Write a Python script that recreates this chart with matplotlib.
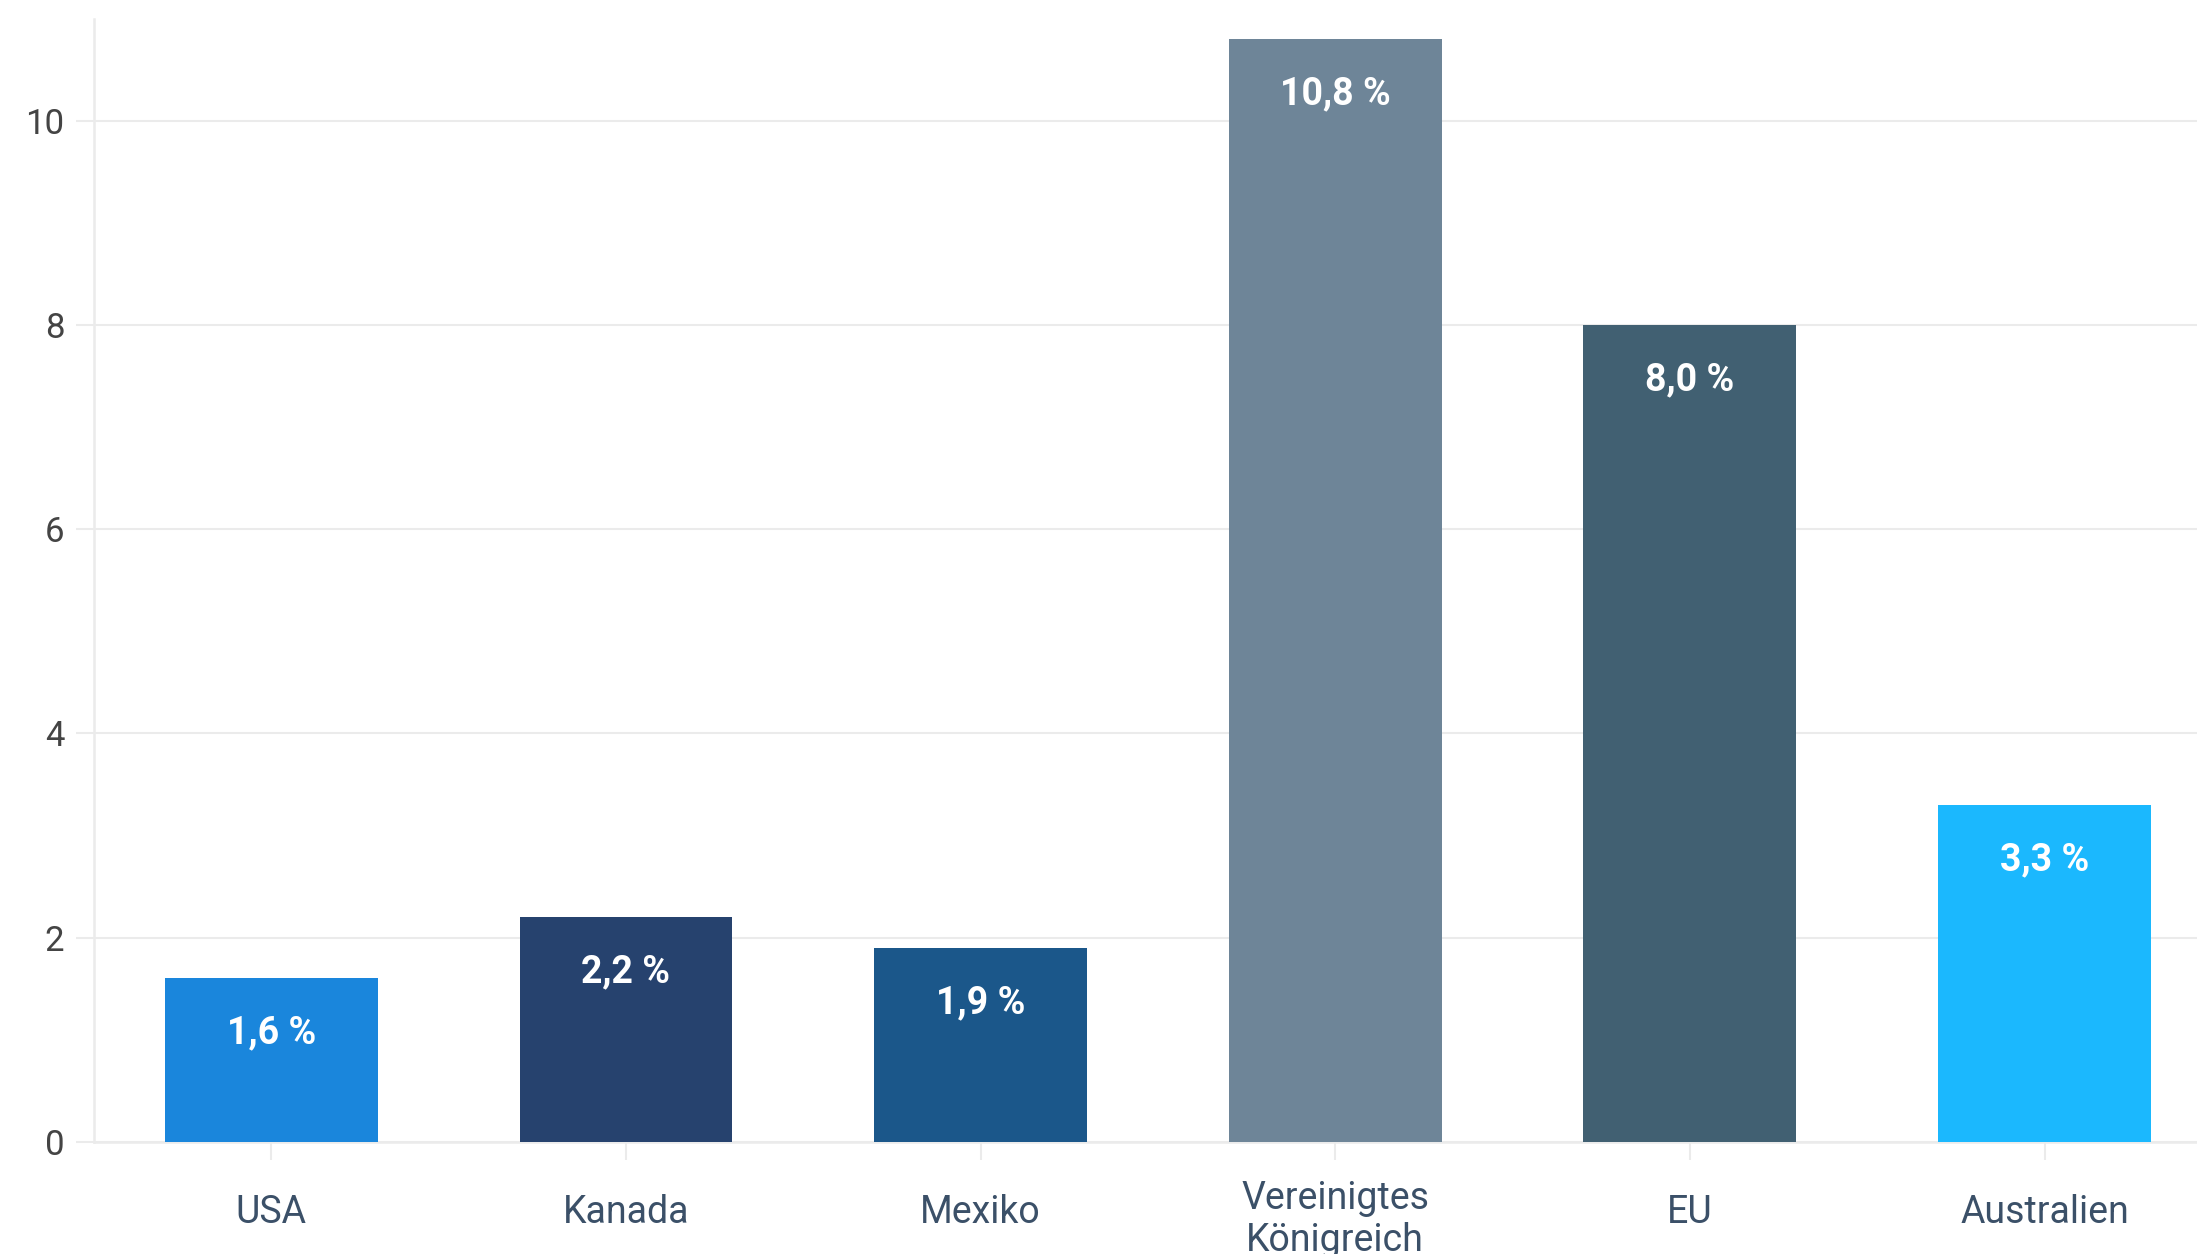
import matplotlib
matplotlib.use("Agg")
import matplotlib.pyplot as plt
import matplotlib.transforms as mtransforms

# Data
categories = ["USA", "Kanada", "Mexiko", "Vereinigtes\nKönigreich", "EU", "Australien"]
values = [1.6, 2.2, 1.9, 10.8, 8.0, 3.3]
value_labels = ["1,6 %", "2,2 %", "1,9 %", "10,8 %", "8,0 %", "3,3 %"]
bar_colors = ["#1a86dc", "#26426e", "#1b578a", "#6e8598", "#416072", "#1bb8fe"]
y_ticks = [0, 2, 4, 6, 8, 10]

plt.rcParams["font.family"] = ["Roboto", "DejaVu Sans"]

W, H = 2197, 1254
fig = plt.figure(figsize=(W / 100, H / 100), dpi=100)
ax = fig.add_axes([94 / W, (H - 1141.7) / H, 1 - 94 / W, (1141.7 - 19) / H])

grid_c = "#ebebeb"
x = list(range(len(categories)))
bars = ax.bar(x, values, width=0.6, color=bar_colors, zorder=3)

for xi, v, lab in zip(x, values, value_labels):
    ax.annotate(lab, (xi, v), xytext=(0, -39.5), textcoords="offset points",
                ha="center", va="center", color="white", fontsize=27,
                fontweight="bold", zorder=4)

ax.set_xlim(-0.5, 5.43)
ax.set_ylim(0, 11)
ax.set_yticks(y_ticks)
ax.set_yticklabels([str(t) for t in y_ticks])
ax.set_xticks(x)
ax.set_xticklabels(categories, va="center", linespacing=1.15)

ax.set_axisbelow(True)
ax.yaxis.grid(True, color=grid_c, linewidth=1.5, zorder=0)
ax.xaxis.grid(False)

for s in ["top", "right"]:
    ax.spines[s].set_visible(False)
for s in ["left", "bottom"]:
    ax.spines[s].set_color(grid_c)
    ax.spines[s].set_linewidth(1.8)

ax.tick_params(axis="y", length=13, width=1.5, color=grid_c, pad=8.5,
               labelsize=25, labelcolor="#444444")
ax.tick_params(axis="x", length=13, width=1.5, color=grid_c, pad=38,
               labelsize=27, labelcolor="#3b5068")

# multi-line category labels sit slightly lower
for lbl in ax.get_xticklabels():
    if "\n" in lbl.get_text():
        lbl.set_transform(lbl.get_transform() +
                          mtransforms.ScaledTranslation(0, -5 / 72, fig.dpi_scale_trans))

fig.savefig("out.png", dpi=100, facecolor="white")
